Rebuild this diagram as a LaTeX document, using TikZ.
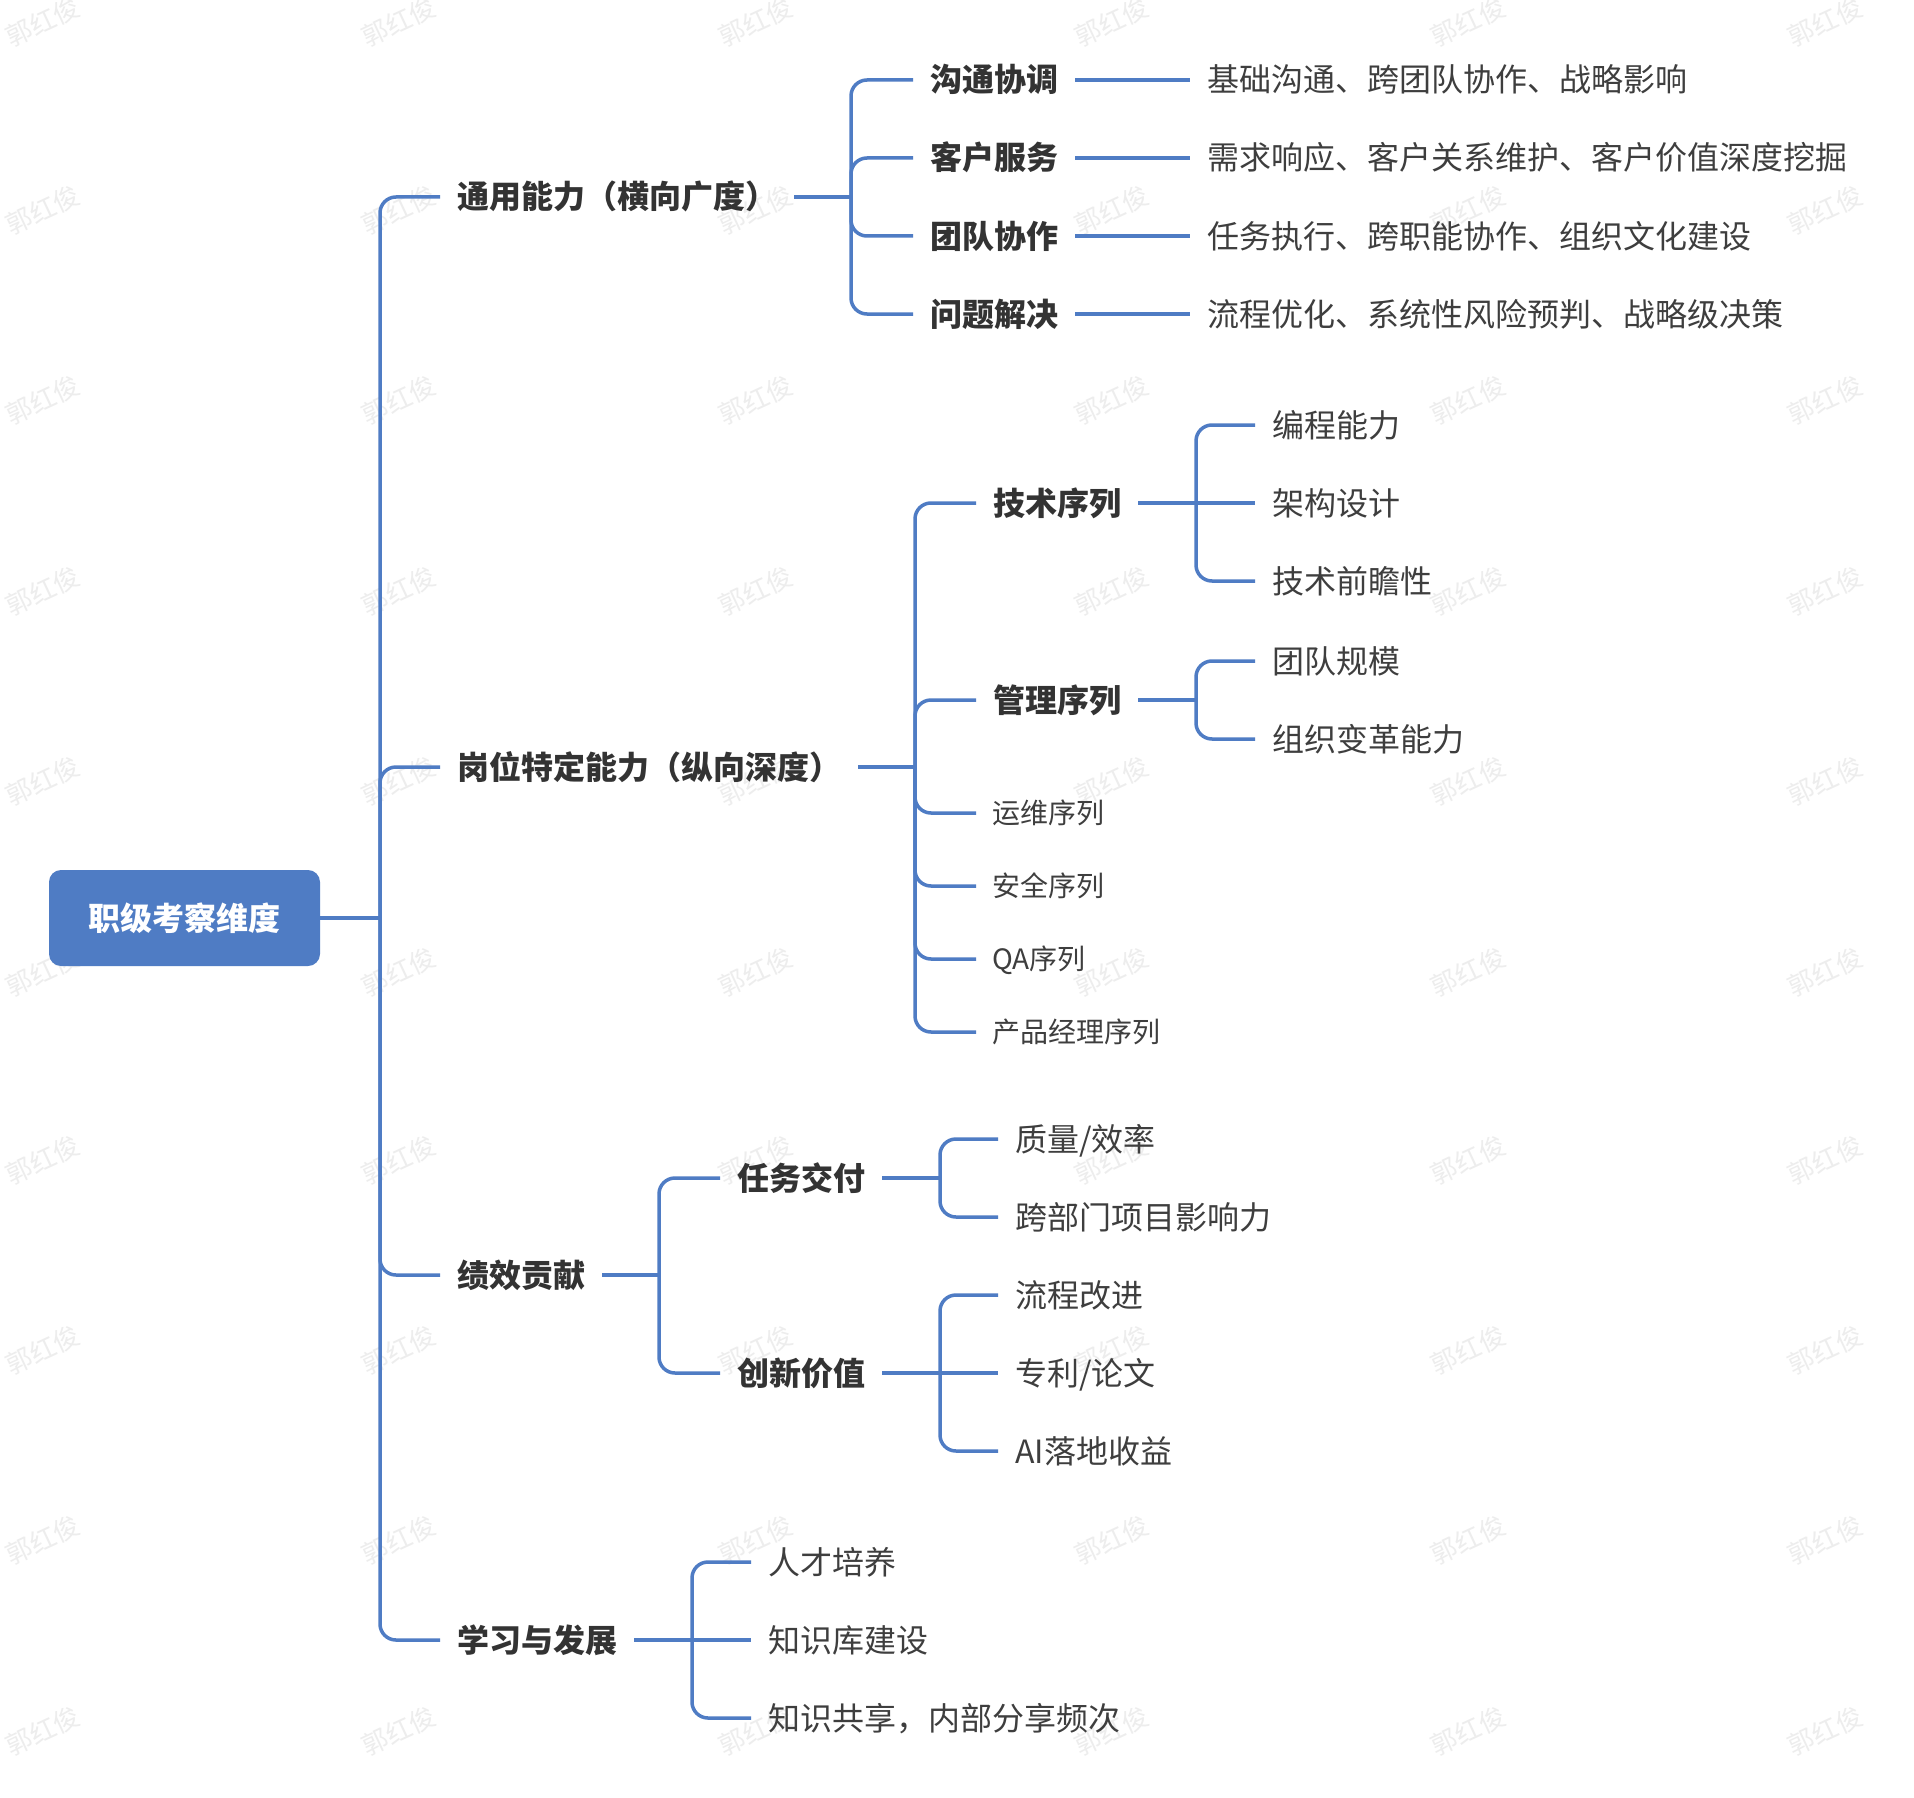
\documentclass[tikz,border=0pt]{standalone}
\usepackage{fontspec}
\setmainfont{Noto Sans CJK SC}
\usepackage{xcolor}
\usepackage{tikz}
\usetikzlibrary{positioning, calc}
\definecolor{branch}{RGB}{79, 124, 196}
\definecolor{inkdark}{RGB}{51, 51, 51}
\definecolor{inksoft}{RGB}{62, 62, 62}

\begin{document}
\begin{tikzpicture}[
    x=1pt, y=-1pt,
    rootbox/.style={rectangle, fill=branch, rounded corners=12pt, minimum width=271pt, minimum height=96pt, text=white, font=\fontsize{32}{38}\selectfont\bfseries, text height=28pt, text depth=4pt},
    topic/.style={anchor=west, inner xsep=17pt, inner ysep=0pt, text height=28pt, text depth=4pt, font=\fontsize{32}{38}\selectfont\bfseries, text=inkdark},
    item/.style={topic, font=\fontsize{32}{38}\selectfont, text=inksoft},
    leaf/.style={anchor=west, inner xsep=16pt, inner ysep=0pt, text height=24.5pt, text depth=3.5pt, font=\fontsize{28}{34}\selectfont, text=inksoft},
    link/.style={line width=3.5pt, color=branch, rounded corners=16pt},
    wmark/.style={rotate=25, text=black!7, font=\fontsize{26}{30}\selectfont}
]
\fill[white] (0,0) rectangle (1914,1798);
\useasboundingbox (0,0) rectangle (1914,1798);

\foreach \wx in {43,399,756,1112,1468,1825}
  \foreach \wy in {22,210,400,591,781,972,1160,1350,1540,1731}
    \node[wmark] (wm-\wx-\wy) at (\wx,\wy) {郭红俊};

\node[rootbox] (root) at (184.5,918) {职级考察维度};
\coordinate (trunk) at (380,918);

\node[topic] (ty) at (440,197) {通用能力（横向广度）};
\node[topic] (gw) at (440,767) {岗位特定能力（纵向深度）};
\node[topic] (jx) at (440,1275) {绩效贡献};
\node[topic] (xx) at (440,1640) {学习与发展};

\coordinate (j1) at (851,197);
\node[topic] (gt1) at (913,80) {沟通协调};
\node[topic] (gt2) at (913,158) {客户服务};
\node[topic] (gt3) at (913,236) {团队协作};
\node[topic] (gt4) at (913,314) {问题解决};
\node[item, right=115pt of gt1] (gt1d) {基础沟通、跨团队协作、战略影响};
\node[item, right=115pt of gt2] (gt2d) {需求响应、客户关系维护、客户价值深度挖掘};
\node[item, right=115pt of gt3] (gt3d) {任务执行、跨职能协作、组织文化建设};
\node[item, right=115pt of gt4] (gt4d) {流程优化、系统性风险预判、战略级决策};

\coordinate (j2) at (915,767);
\node[topic] (js) at (976,503) {技术序列};
\node[topic] (gl) at (976,700) {管理序列};
\node[leaf] (yw) at (976,813) {运维序列};
\node[leaf] (aq) at (976,886) {安全序列};
\node[leaf] (qa) at (976,959) {QA序列};
\node[leaf] (cp) at (976,1032) {产品经理序列};

\coordinate (j3) at (1196,503);
\node[item] (bc) at (1255,425) {编程能力};
\node[item] (jg) at (1255,503) {架构设计};
\node[item] (qz) at (1255,581) {技术前瞻性};
\coordinate (j4) at (1196,700);
\node[item] (td) at (1255,661) {团队规模};
\node[item] (zz) at (1255,739) {组织变革能力};

\coordinate (j5) at (659,1275);
\node[topic] (rw) at (720,1178) {任务交付};
\node[topic] (cx) at (720,1373) {创新价值};
\coordinate (j6) at (940,1178);
\node[item] (zl) at (998,1139) {质量/效率};
\node[item] (kb) at (998,1217) {跨部门项目影响力};
\coordinate (j7) at (940,1373);
\node[item] (lc) at (998,1295) {流程改进};
\node[item] (zh) at (998,1373) {专利/论文};
\node[item] (ai) at (998,1451) {AI落地收益};

\coordinate (j8) at (692,1640);
\node[item] (rc) at (751,1562) {人才培养};
\node[item] (zs) at (751,1640) {知识库建设};
\node[item] (gx) at (751,1718) {知识共享，内部分享频次};

\draw[link] (root.east) -- (trunk);
\foreach \n in {ty,gw,jx,xx} \draw[link] (trunk) |- (\n.west);

\draw[link] (ty.east) -- (j1);
\foreach \n in {gt1,gt2,gt3,gt4} \draw[link] (j1) |- (\n.west);
\foreach \n in {gt1,gt2,gt3,gt4} \draw[link] (\n) -- (\n d);

\draw[link] (gw.east) -- (j2);
\foreach \n in {js,gl,yw,aq,qa,cp} \draw[link] (j2) |- (\n.west);
\draw[link] (js.east) -- (jg.west);
\foreach \n in {bc,qz} \draw[link] (j3) |- (\n.west);
\draw[link] (gl.east) -- (j4);
\foreach \n in {td,zz} \draw[link] (j4) |- (\n.west);

\draw[link] (jx.east) -- (j5);
\foreach \n in {rw,cx} \draw[link] (j5) |- (\n.west);
\draw[link] (rw.east) -- (j6);
\foreach \n in {zl,kb} \draw[link] (j6) |- (\n.west);
\draw[link] (cx.east) -- (zh.west);
\foreach \n in {lc,ai} \draw[link] (j7) |- (\n.west);

\draw[link] (xx.east) -- (zs.west);
\foreach \n in {rc,gx} \draw[link] (j8) |- (\n.west);
\end{tikzpicture}
\end{document}
